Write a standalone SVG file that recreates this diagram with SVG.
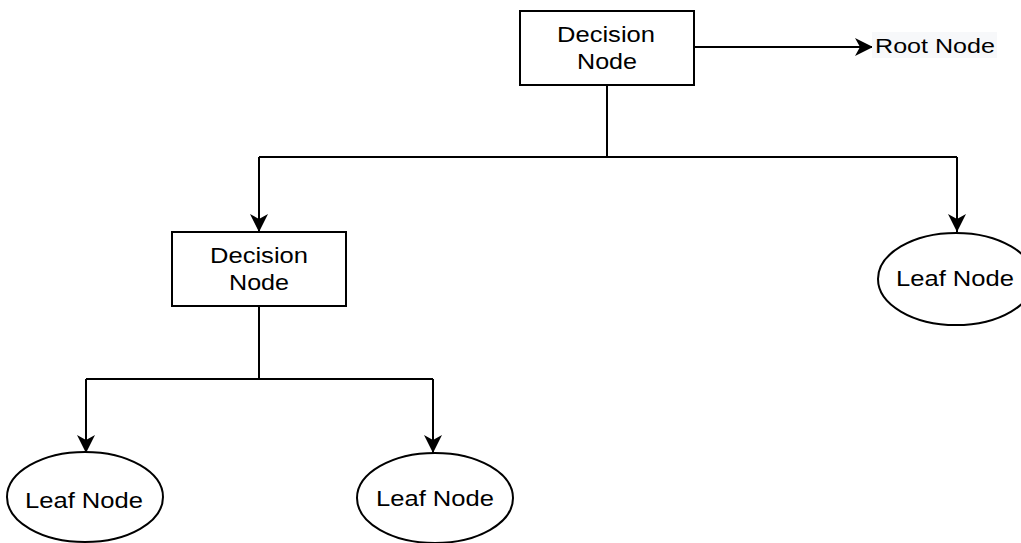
<svg xmlns="http://www.w3.org/2000/svg" width="1021" height="543" viewBox="0 0 1021 543">
<style>
.box{fill:#fff;stroke:#000;stroke-width:2}
.leaf{fill:#fff;stroke:#000;stroke-width:2}
.edge{fill:none;stroke:#000;stroke-width:2}
.arr{fill:none;stroke:#000;stroke-width:2;marker-end:url(#ah)}
text{font-family:"Liberation Sans",Arial,sans-serif;font-size:22px;fill:#000;text-anchor:middle}
</style>
<defs>
<marker id="ah" markerUnits="userSpaceOnUse" markerWidth="20" markerHeight="20" refX="18" refY="10" orient="auto" viewBox="0 0 20 20">
<path d="M0,1 L18,10 L0,19 L5,10 z" fill="#000"/>
</marker>
</defs>
<rect width="1021" height="543" fill="#fff"/>
<g id="connectors">
<path class="arr" d="M694,47 H873"/>
<path class="edge" d="M607,85 V157 M259,157 H957"/>
<path class="arr" d="M259,157 V232"/>
<path class="arr" d="M957,157 V232"/>
<path class="edge" d="M259,306 V379 M86,379 H433"/>
<path class="arr" d="M86,379 V453"/>
<path class="arr" d="M433,379 V453"/>
</g>
<g id="root-label">
<rect x="872" y="32" width="125" height="26" fill="#f7f8fa"/>
<text x="935" y="53" style="font-size:20px" textLength="120" lengthAdjust="spacingAndGlyphs">Root Node</text>
</g>
<g id="decision-root">
<rect class="box" x="520" y="11" width="174" height="74"/>
<text x="606" y="42" textLength="98" lengthAdjust="spacingAndGlyphs">Decision</text>
<text x="607" y="69" textLength="60" lengthAdjust="spacingAndGlyphs">Node</text>
</g>
<g id="decision-2">
<rect class="box" x="172" y="232" width="174" height="74"/>
<text x="259" y="263" textLength="98" lengthAdjust="spacingAndGlyphs">Decision</text>
<text x="259" y="290" textLength="60" lengthAdjust="spacingAndGlyphs">Node</text>
</g>
<g id="leaf-right">
<ellipse class="leaf" cx="956" cy="279" rx="78" ry="46"/>
<text x="955" y="286" textLength="118" lengthAdjust="spacingAndGlyphs">Leaf Node</text>
</g>
<g id="leaf-left">
<ellipse class="leaf" cx="85" cy="497" rx="78" ry="45"/>
<text x="84" y="508" textLength="118" lengthAdjust="spacingAndGlyphs">Leaf Node</text>
</g>
<g id="leaf-mid">
<ellipse class="leaf" cx="435" cy="498" rx="78" ry="45"/>
<text x="435" y="506" textLength="118" lengthAdjust="spacingAndGlyphs">Leaf Node</text>
</g>
</svg>
